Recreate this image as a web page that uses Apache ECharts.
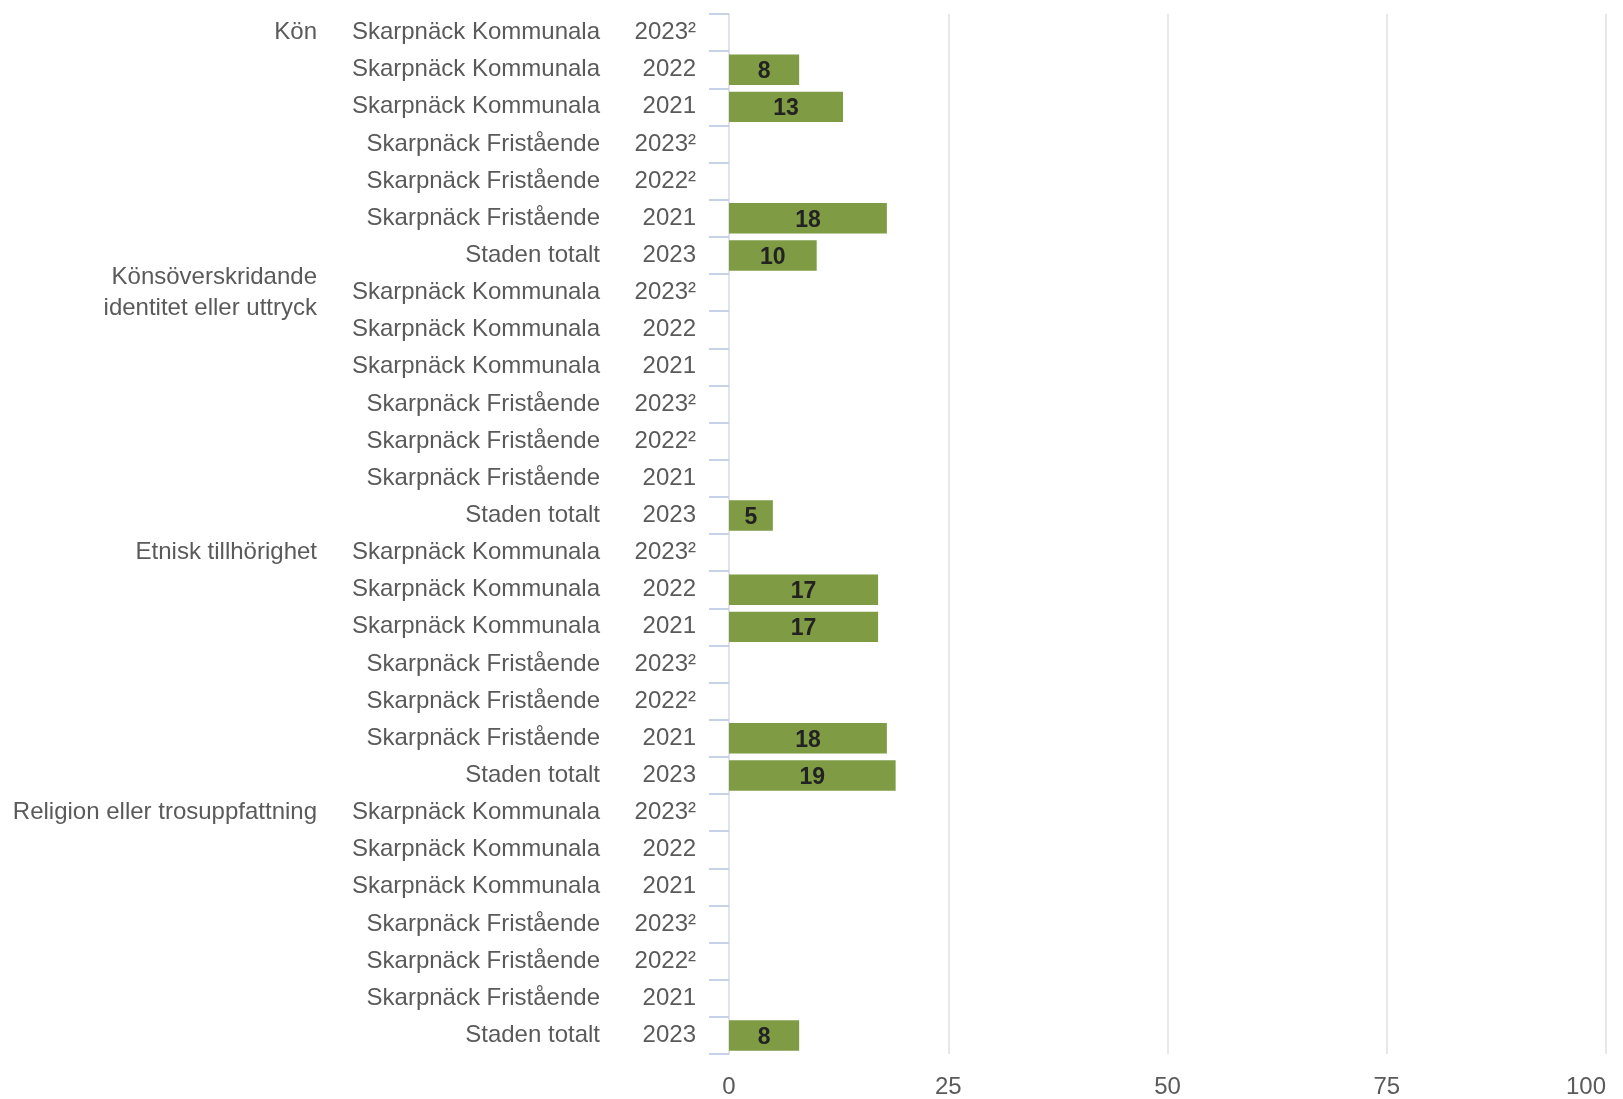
<!DOCTYPE html>
<html>
<head>
<meta charset="utf-8">
<style>
  html, body { margin: 0; padding: 0; background: #ffffff; }
  #chart { width: 1623px; height: 1099px; }
</style>
<script src="https://cdn.jsdelivr.net/npm/echarts@6/dist/echarts.min.js"></script>
</head>
<body>
<div id="chart"></div>
<script>
// Grounds for discrimination, each with seven rows of units and years
const groups = ['Kön', 'Könsöverskridande\nidentitet eller uttryck', 'Etnisk tillhörighet', 'Religion eller trosuppfattning'];
const units = ['Skarpnäck Kommunala', 'Skarpnäck Kommunala', 'Skarpnäck Kommunala',
               'Skarpnäck Fristående', 'Skarpnäck Fristående', 'Skarpnäck Fristående', 'Staden totalt'];
const years = ['2023²', '2022', '2021', '2023²', '2022²', '2021', '2023'];

// Share (%) per row within each group; null = no value shown
const konValues       = [null, 8, 13, null, null, 18, 10];
const identitetValues = [null, null, null, null, null, null, 5];
const etniskValues    = [null, 17, 17, null, null, 18, 19];
const religionValues  = [null, null, null, null, null, null, 8];

const xTicks = [0, 25, 50, 75, 100];

const groupValues = [konValues, identitetValues, etniskValues, religionValues];

// Flatten into one row per bar
const rowIds = [], rowYear = [], rowUnit = [], rowGroup = [], rowValue = [];
groups.forEach((g, gi) => {
  units.forEach((u, ui) => {
    rowIds.push(String(rowIds.length));
    rowYear.push(years[ui]);
    rowUnit.push(u);
    rowGroup.push(ui === 0 ? g : '');
    rowValue.push(groupValues[gi][ui]);
  });
});

const textColor = '#5a5a5a';
const labelFont = 'Liberation Sans, Arial, Helvetica, sans-serif';

function labelAxis(texts, margin, extra) {
  return Object.assign({
    type: 'category',
    data: rowIds,
    inverse: true,
    position: 'left',
    axisLine: { show: false },
    axisTick: { show: false },
    splitLine: { show: false },
    axisLabel: {
      interval: 0,
      margin: margin,
      color: textColor,
      fontSize: 24,
      fontFamily: labelFont,
      lineHeight: 31,
      align: 'right',
      padding: [3, 0, 0, 0],
      formatter: (v, i) => texts[i]
    }
  }, extra || {});
}

const chart = echarts.init(document.getElementById('chart'), null, { renderer: 'canvas' });

chart.setOption({
  animation: false,
  backgroundColor: '#ffffff',
  grid: { left: 729, right: 17, top: 14, bottom: 38, containLabel: false },
  xAxis: {
    type: 'value',
    min: xTicks[0],
    max: xTicks[xTicks.length - 1],
    interval: 25,
    axisLine: { show: false },
    axisTick: { show: false },
    splitLine: { show: true, lineStyle: { color: '#e1e1e1', width: 1.5 } },
    axisLabel: {
      margin: 21,
      color: textColor,
      fontSize: 24,
      fontFamily: labelFont,
      alignMaxLabel: 'right'
    }
  },
  yAxis: [
    labelAxis(rowYear, 33, {
      axisLine: { show: true, lineStyle: { color: '#e0e3ea', width: 2 } },
      axisTick: { show: true, length: 20, lineStyle: { color: '#c7d2e8', width: 2 } }
    }),
    labelAxis(rowUnit, 129),
    labelAxis(rowGroup, 412)
  ],
  series: [{
    type: 'bar',
    yAxisIndex: 0,
    data: rowValue,
    barCategoryGap: '18%',
    itemStyle: { color: '#7f9c44' },
    label: {
      show: true,
      position: 'inside',
      color: '#222222',
      fontSize: 23,
      fontWeight: 'bold',
      fontFamily: labelFont,
      offset: [0, 2],
      formatter: p => (p.value == null ? '' : String(p.value))
    }
  }]
});
</script>
</body>
</html>
